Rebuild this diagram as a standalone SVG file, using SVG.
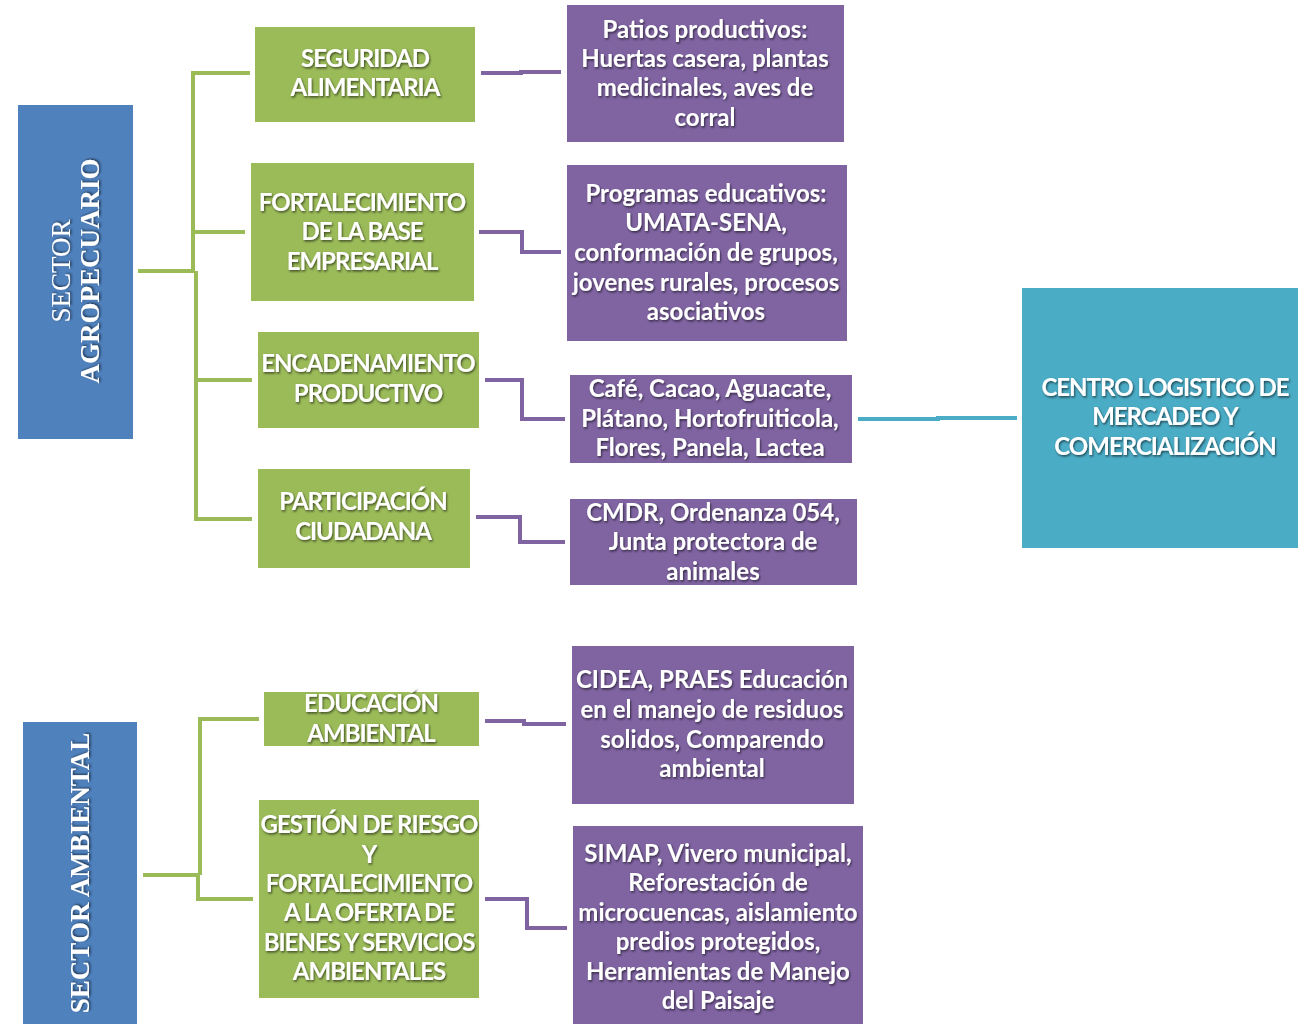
<svg xmlns="http://www.w3.org/2000/svg" width="1298" height="1024" viewBox="0 0 1298 1024">
<defs>
<filter id="sh" x="-10%" y="-30%" width="120%" height="160%">
<feDropShadow dx="1" dy="1.5" stdDeviation="1.2" flood-color="#000" flood-opacity="0.6"/>
</filter>
<style>
.blue{fill:#4f81bd}
.green{fill:#9bbb59}
.purple{fill:#8064a2}
.cyan{fill:#4bacc6}
.t{font-family:Lato,"Open Sans","Liberation Sans",sans-serif;font-weight:700;font-size:24px;fill:#fff;text-anchor:middle;filter:url(#sh)}
.c{letter-spacing:-1px}
.s{font-family:"Liberation Serif","DejaVu Serif",serif;font-size:27px;fill:#fff;text-anchor:middle;filter:url(#sh)}
.gl{stroke:#9bbb59;stroke-width:4;fill:none}
.pl{stroke:#8064a2;stroke-width:4;fill:none}
.cl{stroke:#4bacc6;stroke-width:4;fill:none}
</style>
</defs>
<rect width="1298" height="1024" fill="#fff"/>

<g id="connectors">
<path class="gl" d="M138 271H194M193 271V73H250M193 232H245M196 271V519H252M196 380H252"/>
<path class="gl" d="M143 875H200M200 875V719H259M198 875V899H253"/>
<path class="pl" d="M481 73H521V72H561"/>
<path class="pl" d="M479 232H522V252H561"/>
<path class="pl" d="M485 380H522V419H565"/>
<path class="pl" d="M476 517H520V542H565"/>
<path class="pl" d="M485 721H524V724H566"/>
<path class="pl" d="M485 899H527V928H567"/>
<path class="cl" d="M858 419H938V418H1017"/>
</g>

<g id="sector-agropecuario">
<rect class="blue" x="18" y="105" width="115" height="334"/>
<text class="s" transform="translate(70 271) rotate(-90)">SECTOR</text>
<text class="s" font-weight="700" transform="translate(99 271) rotate(-90)">AGROPECUARIO</text>
</g>

<g id="sector-ambiental">
<rect class="blue" x="23" y="722" width="114" height="302"/>
<text class="s" font-weight="700" transform="translate(89 873) rotate(-90)">SECTOR AMBIENTAL</text>
</g>

<g id="seguridad-alimentaria">
<rect class="green" x="255" y="27" width="220" height="95"/>
<text class="t c" x="365" y="67">SEGURIDAD</text>
<text class="t c" x="365" y="96">ALIMENTARIA</text>
</g>

<g id="fortalecimiento-base">
<rect class="green" x="251" y="163" width="223" height="138"/>
<text class="t c" x="362" y="211">FORTALECIMIENTO</text>
<text class="t c" x="362" y="240">DE LA BASE</text>
<text class="t c" x="362" y="270">EMPRESARIAL</text>
</g>

<g id="encadenamiento">
<rect class="green" x="258" y="332" width="221" height="96"/>
<text class="t c" x="368" y="372">ENCADENAMIENTO</text>
<text class="t c" x="368" y="402">PRODUCTIVO</text>
</g>

<g id="participacion">
<rect class="green" x="258" y="469" width="212" height="99"/>
<text class="t c" x="363" y="510">PARTICIPACIÓN</text>
<text class="t c" x="363" y="540">CIUDADANA</text>
</g>

<g id="educacion-ambiental">
<rect class="green" x="264" y="692" width="215" height="54"/>
<text class="t c" x="371" y="712">EDUCACIÓN</text>
<text class="t c" x="371" y="742">AMBIENTAL</text>
</g>

<g id="gestion-riesgo">
<rect class="green" x="259" y="800" width="220" height="198"/>
<text class="t c" x="369" y="833">GESTIÓN DE RIESGO</text>
<text class="t c" x="369" y="863">Y</text>
<text class="t c" x="369" y="892">FORTALECIMIENTO</text>
<text class="t c" x="369" y="921">A LA OFERTA DE</text>
<text class="t c" x="369" y="951">BIENES Y SERVICIOS</text>
<text class="t c" x="369" y="980">AMBIENTALES</text>
</g>

<g id="patios">
<rect class="purple" x="567" y="5" width="277" height="137"/>
<text class="t" x="705" y="38">Patios productivos:</text>
<text class="t" x="705" y="67">Huertas casera, plantas</text>
<text class="t" x="705" y="96">medicinales, aves de</text>
<text class="t" x="705" y="126">corral</text>
</g>

<g id="programas">
<rect class="purple" x="567" y="165" width="280" height="176"/>
<text class="t" x="706" y="202">Programas educativos:</text>
<text class="t" x="706" y="231">UMATA-SENA,</text>
<text class="t" x="706" y="261">conformación de grupos,</text>
<text class="t" x="706" y="291">jovenes rurales, procesos</text>
<text class="t" x="706" y="320">asociativos</text>
</g>

<g id="cafe">
<rect class="purple" x="570" y="375" width="282" height="88"/>
<text class="t" x="710" y="397">Café, Cacao, Aguacate,</text>
<text class="t" x="710" y="427">Plátano, Hortofruiticola,</text>
<text class="t" x="710" y="456">Flores, Panela, Lactea</text>
</g>

<g id="cmdr">
<rect class="purple" x="570" y="499" width="287" height="86"/>
<text class="t" x="713" y="521">CMDR, Ordenanza 054,</text>
<text class="t" x="713" y="550">Junta protectora de</text>
<text class="t" x="713" y="580">animales</text>
</g>

<g id="cidea">
<rect class="purple" x="572" y="646" width="282" height="158"/>
<text class="t" x="712" y="688">CIDEA, PRAES Educación</text>
<text class="t" x="712" y="718">en el manejo de residuos</text>
<text class="t" x="712" y="748">solidos, Comparendo</text>
<text class="t" x="712" y="777">ambiental</text>
</g>

<g id="simap">
<rect class="purple" x="573" y="826" width="290" height="198"/>
<text class="t" x="718" y="862">SIMAP, Vivero municipal,</text>
<text class="t" x="718" y="891">Reforestación de</text>
<text class="t" x="718" y="921">microcuencas, aislamiento</text>
<text class="t" x="718" y="950">predios protegidos,</text>
<text class="t" x="718" y="980">Herramientas de Manejo</text>
<text class="t" x="718" y="1009">del Paisaje</text>
</g>

<g id="centro-logistico">
<rect class="cyan" x="1022" y="288" width="276" height="260"/>
<text class="t c" x="1165" y="396">CENTRO LOGISTICO DE</text>
<text class="t c" x="1165" y="425">MERCADEO Y</text>
<text class="t c" x="1165" y="455">COMERCIALIZACIÓN</text>
</g>
</svg>
